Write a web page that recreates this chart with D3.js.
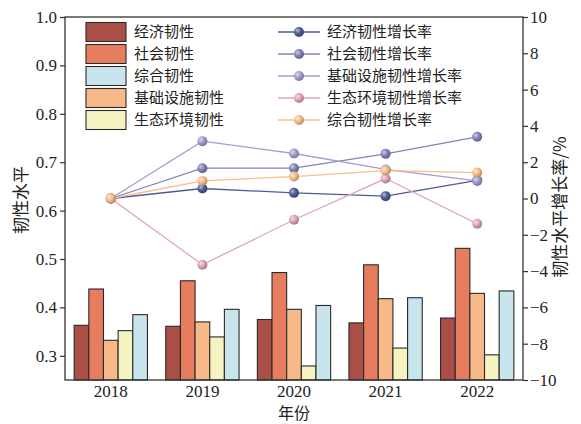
<!DOCTYPE html>
<html>
<head>
<meta charset="utf-8">
<script src="https://cdn.jsdelivr.net/npm/d3@7"></script>
<style>
  body { margin: 0; background: #fff; }
</style>
</head>
<body>
<svg id="chart" width="581" height="424"></svg>
<script>
// data
var years = ['2018', '2019', '2020', '2021', '2022']
var barNames = ['经济韧性', '社会韧性', '基础设施韧性', '生态环境韧性', '综合韧性']
var econ = [0.363, 0.361, 0.375, 0.368, 0.378]
var social = [0.438, 0.455, 0.472, 0.488, 0.522]
var infra = [0.332, 0.370, 0.396, 0.418, 0.429]
var eco = [0.352, 0.339, 0.279, 0.316, 0.302]
var overall = [0.385, 0.396, 0.404, 0.420, 0.434]

var lineNames = ['经济韧性增长率', '社会韧性增长率', '基础设施韧性增长率', '生态环境韧性增长率', '综合韧性增长率']
var econRate = [0, 0.55, 0.31, 0.13, 1.0]
var socialRate = [0, 1.67, 1.67, 2.46, 3.4]
var infraRate = [0, 3.16, 2.48, 1.6, 0.97]
var ecoRate = [0, -3.65, -1.17, 1.1, -1.39]
var overallRate = [0, 0.97, 1.21, 1.54, 1.43]

var leftTicks = [0.3, 0.4, 0.5, 0.6, 0.7, 0.8, 0.9, 1.0]
var rightTicks = [-10, -8, -6, -4, -2, 0, 2, 4, 6, 8, 10]

var barColors = ['#a94f45', '#e67d5f', '#f7b987', '#f5f3c1', '#c8e4ec']
var lineColors = ['#4b5d95', '#7f84b9', '#a59dce', '#dea6b9', '#f8be8b']

var barSeries = [econ, social, infra, eco, overall]
var lineSeries = [econRate, socialRate, infraRate, ecoRate, overallRate]

var serif = '"Liberation Serif", "Times New Roman", "DejaVu Serif", serif'
var cjk = '"Noto Sans CJK SC", "Noto Sans", sans-serif'

var margin = {left: 65, right: 58, top: 17, bottom: 44}
var width = 581, height = 424
var svg = d3.select('#chart')

var x = d3.scaleBand().domain(years).range([margin.left, width - margin.right])
var xi = d3.scaleBand().domain(d3.range(5)).range([0, x.bandwidth() * 0.8])
var y = d3.scaleLinear().domain([0.25, 1.0]).range([height - margin.bottom, margin.top])
var y2 = d3.scaleLinear().domain([-10, 10]).range([height - margin.bottom, margin.top])

// gradients for the markers
var defs = svg.append('defs')
lineColors.forEach((c, i) => {
    var g = defs.append('radialGradient')
        .attr('id', 'ball' + i)
        .attr('cx', '35%').attr('cy', '35%').attr('r', '65%')
    g.append('stop').attr('offset', '0%').attr('stop-color', d3.interpolateRgb(c, '#fff')(0.6))
    g.append('stop').attr('offset', '50%').attr('stop-color', c)
    g.append('stop').attr('offset', '100%').attr('stop-color', d3.interpolateRgb(c, '#000')(0.25))
})

// bars
svg.append('g')
    .selectAll('.year')
    .data(years)
    .join('g')
    .attr('class', 'year')
    .attr('transform', d => 'translate(' + (x(d) + x.bandwidth() * 0.1) + ',0)')
    .selectAll('rect')
    .data((d, i) => barSeries.map((s, k) => ({k: k, v: s[i]})))
    .join('rect')
    .attr('x', d => xi(d.k))
    .attr('y', d => y(d.v))
    .attr('width', xi.bandwidth())
    .attr('height', d => y(0.25) - y(d.v))
    .attr('fill', d => barColors[d.k])
    .attr('stroke', '#2a2a2a')
    .attr('stroke-width', 1.1)

// lines
var line = d3.line()
    .x((d, i) => x(years[i]) + x.bandwidth() / 2)
    .y(d => y2(d))

var lg = svg.append('g')
lineSeries.forEach((s, i) => {
    lg.append('path')
        .datum(s)
        .attr('d', line)
        .attr('fill', 'none')
        .attr('stroke', lineColors[i])
        .attr('stroke-width', 1.3)
})
lineSeries.forEach((s, i) => {
    lg.selectAll('.dot' + i)
        .data(s)
        .join('circle')
        .attr('class', 'dot' + i)
        .attr('cx', (d, j) => x(years[j]) + x.bandwidth() / 2)
        .attr('cy', d => y2(d))
        .attr('r', 5)
        .attr('fill', 'url(#ball' + i + ')')
})

// axes
var fs = '17px'
svg.append('rect')
    .attr('x', margin.left).attr('y', margin.top)
    .attr('width', width - margin.left - margin.right)
    .attr('height', height - margin.top - margin.bottom)
    .attr('fill', 'none').attr('stroke', '#333').attr('stroke-width', 1.3)

svg.append('g')
    .attr('transform', 'translate(' + margin.left + ',0)')
    .call(d3.axisLeft(y).tickValues(leftTicks).tickFormat(d3.format('.1f')).tickSize(5).tickPadding(3))
    .call(g => g.select('.domain').remove())
    .call(g => g.selectAll('line').attr('stroke', '#333').attr('stroke-width', 1.2))
    .call(g => g.selectAll('text').style('font-family', serif).style('font-size', fs).attr('fill', '#222'))

svg.append('g')
    .attr('transform', 'translate(' + (width - margin.right) + ',0)')
    .call(d3.axisRight(y2).tickValues(rightTicks).tickFormat(d => d < 0 ? '\u2212' + Math.abs(d) : d).tickSize(5).tickPadding(2))
    .call(g => g.select('.domain').remove())
    .call(g => g.selectAll('line').attr('stroke', '#333').attr('stroke-width', 1.2))
    .call(g => g.selectAll('text').style('font-family', serif).style('font-size', fs).attr('fill', '#222'))

svg.append('g')
    .attr('transform', 'translate(0,' + (height - margin.bottom) + ')')
    .call(d3.axisBottom(x).tickSize(0).tickPadding(5))
    .call(g => g.select('.domain').remove())
    .call(g => g.selectAll('text').style('font-family', serif).style('font-size', '17px').attr('fill', '#222'))

// axis titles
svg.append('text')
    .attr('transform', 'translate(27,' + 200 + ') rotate(-90)')
    .attr('text-anchor', 'middle')
    .style('font-family', cjk)
    .style('font-size', '17px').attr('fill', '#222')
    .text('韧性水平')

svg.append('text')
    .attr('transform', 'translate(566,' + 207 + ') rotate(-90)')
    .attr('text-anchor', 'middle')
    .style('font-family', cjk)
    .style('font-size', '17px').attr('fill', '#222')
    .text('韧性水平增长率/%')

svg.append('text')
    .attr('x', x('2020') + x.bandwidth() / 2)
    .attr('y', 419)
    .attr('text-anchor', 'middle')
    .style('font-family', cjk)
    .style('font-size', '16px').attr('fill', '#222')
    .text('年份')

// legends
var legBars = [0, 1, 4, 2, 3]
var rowY = d3.scalePoint().domain(d3.range(5)).range([32, 120])

var lb = svg.append('g')
    .selectAll('g')
    .data(legBars)
    .join('g')
    .attr('transform', (d, i) => 'translate(86,' + rowY(i) + ')')
lb.append('rect')
    .attr('x', 0).attr('y', -9.5)
    .attr('width', 40).attr('height', 19)
    .attr('fill', d => barColors[d])
    .attr('stroke', '#2a2a2a').attr('stroke-width', 1.1)
lb.append('text')
    .attr('x', 48).attr('dy', '0.35em')
    .style('font-family', cjk)
    .style('font-size', '15px').attr('fill', '#222')
    .text(d => barNames[d])

var ll = svg.append('g')
    .selectAll('g')
    .data([0, 1, 2, 3, 4])
    .join('g')
    .attr('transform', (d, i) => 'translate(278,' + rowY(i) + ')')
ll.append('line')
    .attr('x1', 0).attr('x2', 42)
    .attr('stroke', d => lineColors[d]).attr('stroke-width', 1.3)
ll.append('circle')
    .attr('cx', 21).attr('r', 5)
    .attr('fill', d => 'url(#ball' + d + ')')
ll.append('text')
    .attr('x', 49).attr('dy', '0.35em')
    .style('font-family', cjk)
    .style('font-size', '15px').attr('fill', '#222')
    .text(d => lineNames[d])
</script>
</body>
</html>
